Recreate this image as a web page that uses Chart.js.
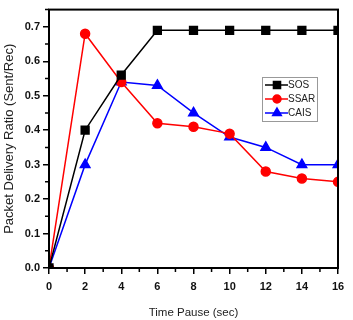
<!DOCTYPE html>
<html>
<head>
<meta charset="utf-8">
<script src="https://cdn.jsdelivr.net/npm/chart.js@4.4.0/dist/chart.umd.min.js"></script>
<style>
  html, body { margin: 0; padding: 0; background: #fff; }
  #wrap { width: 353px; height: 320px; position: relative; }
</style>
</head>
<body>
<div id="wrap"><canvas id="pdrChart"></canvas></div>
<script>
// --- Data ---
const pauseTimes = [0, 2, 4, 6, 8, 10, 12, 14, 16];
const sosValues  = [0, 0.40, 0.56, 0.69, 0.69, 0.69, 0.69, 0.69, 0.69];
const ssarValues = [0, 0.68, 0.54, 0.42, 0.41, 0.39, 0.28, 0.26, 0.25];
const caisValues = [0, 0.30, 0.54, 0.53, 0.45, 0.38, 0.35, 0.30, 0.30];
const yTickValues = [0, 0.1, 0.2, 0.3, 0.4, 0.5, 0.6, 0.7];

const toPoints = vals => pauseTimes.map((x, i) => ({ x: x, y: vals[i] }));
const FONT = '"Liberation Sans", Arial, sans-serif';

// frame + minor ticks + legend drawn on top of the chart
const framePlugin = {
    id: 'frame',
    afterDraw(chart) {
        const { ctx, chartArea: a, scales } = chart;
        ctx.save();
        ctx.strokeStyle = '#000';
        ctx.lineWidth = 2;
        ctx.strokeRect(a.left, a.top, a.right - a.left, a.bottom - a.top);

        // minor ticks
        ctx.lineWidth = 1.5;
        ctx.beginPath();
        for (let v = 1; v < 16; v += 2) {
            const px = scales.x.getPixelForValue(v);
            ctx.moveTo(px, a.bottom);
            ctx.lineTo(px, a.bottom + 4);
        }
        for (let v = 0.05; v < 0.75; v += 0.1) {
            const py = scales.y.getPixelForValue(v);
            ctx.moveTo(a.left, py);
            ctx.lineTo(a.left - 4, py);
        }
        ctx.stroke();

        // legend
        const lx = 262, ly = 77, lw = 55, lh = 44;
        ctx.fillStyle = '#fff';
        ctx.fillRect(lx, ly, lw, lh);
        ctx.strokeStyle = '#999';
        ctx.lineWidth = 1;
        ctx.strokeRect(lx + 0.5, ly + 0.5, lw, lh);
        ctx.font = '10px ' + FONT;
        ctx.textBaseline = 'middle';
        chart.data.datasets.forEach((ds, i) => {
            const y = ly + 8 + i * 14;
            ctx.strokeStyle = ds.borderColor;
            ctx.lineWidth = 1.5;
            ctx.beginPath();
            ctx.moveTo(lx + 3, y);
            ctx.lineTo(lx + 26, y);
            ctx.stroke();
            ctx.fillStyle = ds.pointBackgroundColor;
            Chart.helpers.drawPoint(ctx, {
                pointStyle: ds.pointStyle,
                radius: ds.pointRadius - 0.5,
                borderWidth: 1
            }, lx + 15, y);
            ctx.fillStyle = '#222';
            ctx.fillText(ds.label, lx + 26, y + 0.5);
        });
        ctx.restore();
    }
};

function makeDataset(label, values, color, style, radius) {
    return {
        label: label,
        data: toPoints(values),
        borderColor: color,
        backgroundColor: color,
        pointBackgroundColor: color,
        pointBorderColor: color,
        pointStyle: style,
        pointRadius: radius,
        pointHoverRadius: radius,
        borderWidth: 1.5,
        tension: 0
    };
}

new Chart(document.getElementById('pdrChart').getContext('2d'), {
    type: 'line',
    data: {
        datasets: [
            makeDataset('SOS', sosValues, '#000000', 'rect', 5.5),
            makeDataset('SSAR', ssarValues, '#ff0000', 'circle', 4.5),
            makeDataset('CAIS', caisValues, '#0000ff', 'triangle', 5.5)
        ]
    },
    options: {
        responsive: true,
        maintainAspectRatio: false,
        animation: false,
        layout: { padding: { top: 2, right: 15, left: 0, bottom: 0 } },
        plugins: { legend: { display: false }, tooltip: { enabled: false } },
        scales: {
            x: {
                type: 'linear',
                min: 0,
                max: 16,
                afterFit: s => { s.height = 52; },
                ticks: {
                    stepSize: 2,
                    color: '#111',
                    padding: 6,
                    font: { family: FONT, size: 11, weight: 'bold' }
                },
                grid: { drawOnChartArea: false, drawTicks: true, tickLength: 6, color: '#000', lineWidth: 1.5 },
                border: { display: false },
                title: {
                    display: true,
                    text: 'Time Pause (sec)',
                    color: '#222',
                    padding: { top: 8, bottom: 0 },
                    font: { family: FONT, size: 11.5 }
                }
            },
            y: {
                min: 0,
                max: 0.75,
                afterFit: s => { s.width = 49; },
                afterBuildTicks: s => { s.ticks = yTickValues.map(v => ({ value: v })); },
                ticks: {
                    color: '#111',
                    padding: 3,
                    callback: v => v.toFixed(1),
                    font: { family: FONT, size: 11, weight: 'bold' }
                },
                grid: { drawOnChartArea: false, drawTicks: true, tickLength: 6, color: '#000', lineWidth: 1.5 },
                border: { display: false },
                title: {
                    display: true,
                    text: 'Packet Delivery Ratio (Sent/Rec)',
                    color: '#222',
                    padding: { top: 2, bottom: 0 },
                    font: { family: FONT, size: 13 }
                }
            }
        }
    },
    plugins: [framePlugin]
});
</script>
</body>
</html>
